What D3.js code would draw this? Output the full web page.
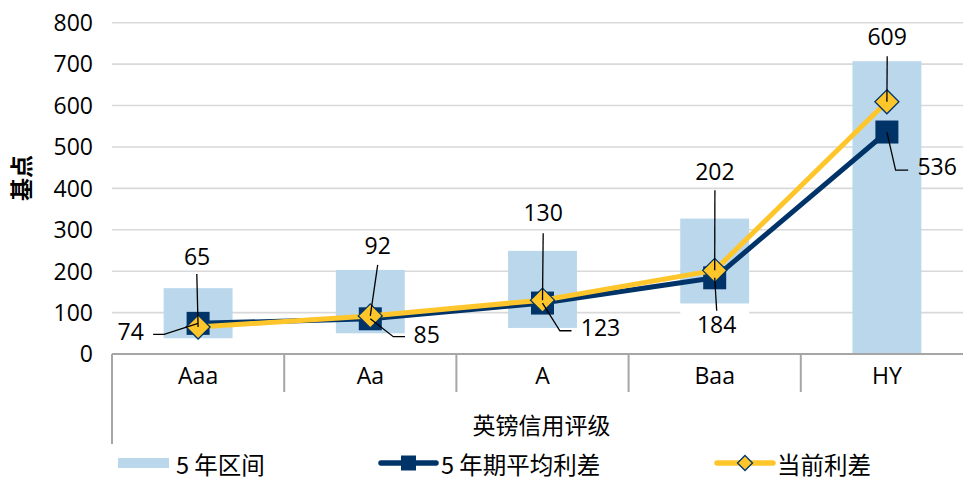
<!DOCTYPE html>
<html>
<head>
<meta charset="utf-8">
<script src="https://cdn.jsdelivr.net/npm/d3@7/dist/d3.min.js"></script>
<style>
  html, body { margin: 0; padding: 0; background: #fff; }
  svg { display: block; }
  text { font-family: "Open Sans", "Noto Sans CJK SC", sans-serif; fill: #000; }
  .cjk { font-family: "Noto Sans CJK SC", sans-serif; }
</style>
</head>
<body>
<svg id="chart" width="963" height="482"></svg>
<script>
// ---- data ----
const categories = ["Aaa", "Aa", "A", "Baa", "HY"];
const rangeLow   = [38, 50, 63, 122, 0];      // 5 年区间 lower bound
const rangeHigh  = [159, 203, 249, 327, 707]; // 5 年区间 upper bound
const avgSpread  = [74, 85, 123, 184, 536];   // 5 年期平均利差
const curSpread  = [65, 92, 130, 202, 609];   // 当前利差
const yTicks     = [0, 100, 200, 300, 400, 500, 600, 700, 800];
const seriesNames = ["5 年区间", "5 年期平均利差", "当前利差"];
const yTitle = "基点";
const xTitle = "英镑信用评级";

// ---- layout ----
const W = 963, H = 482;
const plotL = 112, plotR = 973, plotT = 22.7, plotB = 354;
const navy = "#003469", yellow = "#FFC62B", lightBlue = "#BAD7EB";
const grid = "#D9D9D9", axisGray = "#A6A6A6";

const svg = d3.select("#chart");

const x = d3.scaleBand().domain(categories).range([plotL, plotR]).paddingInner(0).paddingOuter(0);
const y = d3.scaleLinear().domain([0, 800]).range([plotB, plotT]);
const barW = x.bandwidth() * 0.4;
const cx = c => x(c) + x.bandwidth() / 2;

// gridlines
svg.append("g").selectAll("line").data(yTicks.filter(t => t > 0)).join("line")
  .attr("x1", plotL).attr("x2", W)
  .attr("y1", d => y(d)).attr("y2", d => y(d))
  .attr("stroke", grid).attr("stroke-width", 1.6);

// y axis labels
const yAxis = d3.axisLeft(y).tickValues(yTicks).tickSize(0).tickPadding(0);
const gy = svg.append("g").attr("transform", `translate(${plotL - 19},0)`).call(yAxis);
gy.select(".domain").remove();
gy.selectAll("text").attr("font-size", 23).attr("font-family", null).attr("fill", "#000").attr("dy", "0.34em");

// y title
svg.append("text").attr("class", "cjk")
  .attr("transform", `translate(22,178) rotate(-90)`)
  .attr("text-anchor", "middle").attr("dy", "0.36em")
  .attr("font-size", 23).attr("font-weight", "bold").text(yTitle);

// bars: white base (stacked) + blue range
const bars = svg.append("g");
bars.selectAll("rect.base").data(categories).join("rect").attr("class", "base")
  .attr("x", d => cx(d) - barW / 2).attr("width", barW)
  .attr("y", (d, i) => y(rangeLow[i])).attr("height", (d, i) => y(0) - y(rangeLow[i]))
  .attr("fill", "#fff");
bars.selectAll("rect.range").data(categories).join("rect").attr("class", "range")
  .attr("x", d => cx(d) - barW / 2).attr("width", barW)
  .attr("y", (d, i) => y(rangeHigh[i])).attr("height", (d, i) => y(rangeLow[i]) - y(rangeHigh[i]))
  .attr("fill", lightBlue);

// x axis
svg.append("line").attr("x1", plotL).attr("x2", W).attr("y1", plotB).attr("y2", plotB)
  .attr("stroke", axisGray).attr("stroke-width", 2);
svg.append("g").selectAll("line").data(categories).join("line")
  .attr("x1", d => x(d)).attr("x2", d => x(d))
  .attr("y1", plotB).attr("y2", (d, i) => i === 0 ? 444 : 392)
  .attr("stroke", axisGray).attr("stroke-width", 2);
const xAxis = d3.axisBottom(x).tickSize(0).tickPadding(0);
const gx = svg.append("g").attr("transform", `translate(0,${plotB})`).call(xAxis);
gx.select(".domain").remove();
gx.selectAll("text").attr("font-size", 23).attr("font-family", null).attr("fill", "#000")
  .attr("dy", null).attr("y", 29.5);

svg.append("text").attr("class", "cjk").attr("x", 541.5).attr("y", 426)
  .attr("text-anchor", "middle").attr("dy", "0.36em").attr("font-size", 23).text(xTitle);

// lines
const lineGen = vals => d3.line().x((d, i) => cx(categories[i])).y(d => y(d))(vals);
svg.append("path").attr("d", lineGen(avgSpread)).attr("fill", "none")
  .attr("stroke", navy).attr("stroke-width", 5).attr("stroke-linejoin", "round");
// avg markers
svg.append("g").selectAll("rect").data(avgSpread).join("rect")
  .attr("x", (d, i) => cx(categories[i]) - 11.5).attr("y", d => y(d) - 11.5)
  .attr("width", 23).attr("height", 23).attr("fill", navy);
svg.append("path").attr("d", lineGen(curSpread)).attr("fill", "none")
  .attr("stroke", yellow).attr("stroke-width", 5).attr("stroke-linejoin", "round");
// current markers (diamonds)
const dia = r => `M0,${-r}L${r},0L0,${r}L${-r},0Z`;
svg.append("g").selectAll("path").data(curSpread).join("path")
  .attr("transform", (d, i) => `translate(${cx(categories[i])},${y(d)})`)
  .attr("d", dia(12)).attr("fill", yellow).attr("stroke", navy).attr("stroke-width", 1.3);

// data labels with leader lines (offsets relative to point)
const curLabelPos = [[-1, -70], [7.4, -70], [0.7, -87], [0.2, -98.6], [0.3, -65]];
const curLeader   = [[[-1.3, -53]], [[7.4, -51]], [[0.7, -67]], [[0.2, -80]], [[0.3, -45.6]]];
const avgLabelPos = [[-67.4, 8.7], [56.4, 16.2], [58, 25], [2, 47.2], [50.3, 34.8]];
const avgLeader   = [[[-45, 11], [-34, 11]], [[34.7, 17.9], [23, 17.9]], [[29, 27.7], [17.4, 27.7]],
                     [[2, 33]], [[21.3, 38], [8.7, 38]]];

function drawLabels(vals, pos, leaders) {
  const g = svg.append("g");
  vals.forEach((v, i) => {
    const px = cx(categories[i]), py = y(v);
    const pts = leaders[i].map(p => [px + p[0], py + p[1]]).concat([[px, py]]);
    g.append("path").attr("d", d3.line()(pts)).attr("fill", "none")
      .attr("stroke", "#000").attr("stroke-width", 1.3);
    g.append("text").attr("x", px + pos[i][0]).attr("y", py + pos[i][1])
      .attr("text-anchor", "middle").attr("dy", "0.36em").attr("font-size", 23).text(v);
  });
}
drawLabels(avgSpread, avgLabelPos, avgLeader);
drawLabels(curSpread, curLabelPos, curLeader);

// legend
const lg = svg.append("g");
const ly = 463;
lg.append("rect").attr("x", 118).attr("y", ly - 5).attr("width", 51).attr("height", 10).attr("fill", lightBlue);
lg.append("text").attr("class", "cjk").attr("x", 176).attr("y", ly + 3).attr("dy", "0.36em").attr("font-size", 23.5).text(seriesNames[0]);
lg.append("line").attr("x1", 381).attr("x2", 436).attr("y1", ly).attr("y2", ly)
  .attr("stroke", navy).attr("stroke-width", 5.5).attr("stroke-linecap", "round");
lg.append("rect").attr("x", 408.5 - 7.5).attr("y", ly - 7.5).attr("width", 15).attr("height", 15).attr("fill", navy);
lg.append("text").attr("class", "cjk").attr("x", 441).attr("y", ly + 3).attr("dy", "0.36em").attr("font-size", 23.5).text(seriesNames[1]);
lg.append("line").attr("x1", 717).attr("x2", 773).attr("y1", ly).attr("y2", ly)
  .attr("stroke", yellow).attr("stroke-width", 5.5).attr("stroke-linecap", "round");
lg.append("path").attr("transform", `translate(745,${ly})`).attr("d", dia(7.5))
  .attr("fill", yellow).attr("stroke", navy).attr("stroke-width", 1.3);
lg.append("text").attr("class", "cjk").attr("x", 777).attr("y", ly + 3).attr("dy", "0.36em").attr("font-size", 23.5).text(seriesNames[2]);
</script>
</body>
</html>
